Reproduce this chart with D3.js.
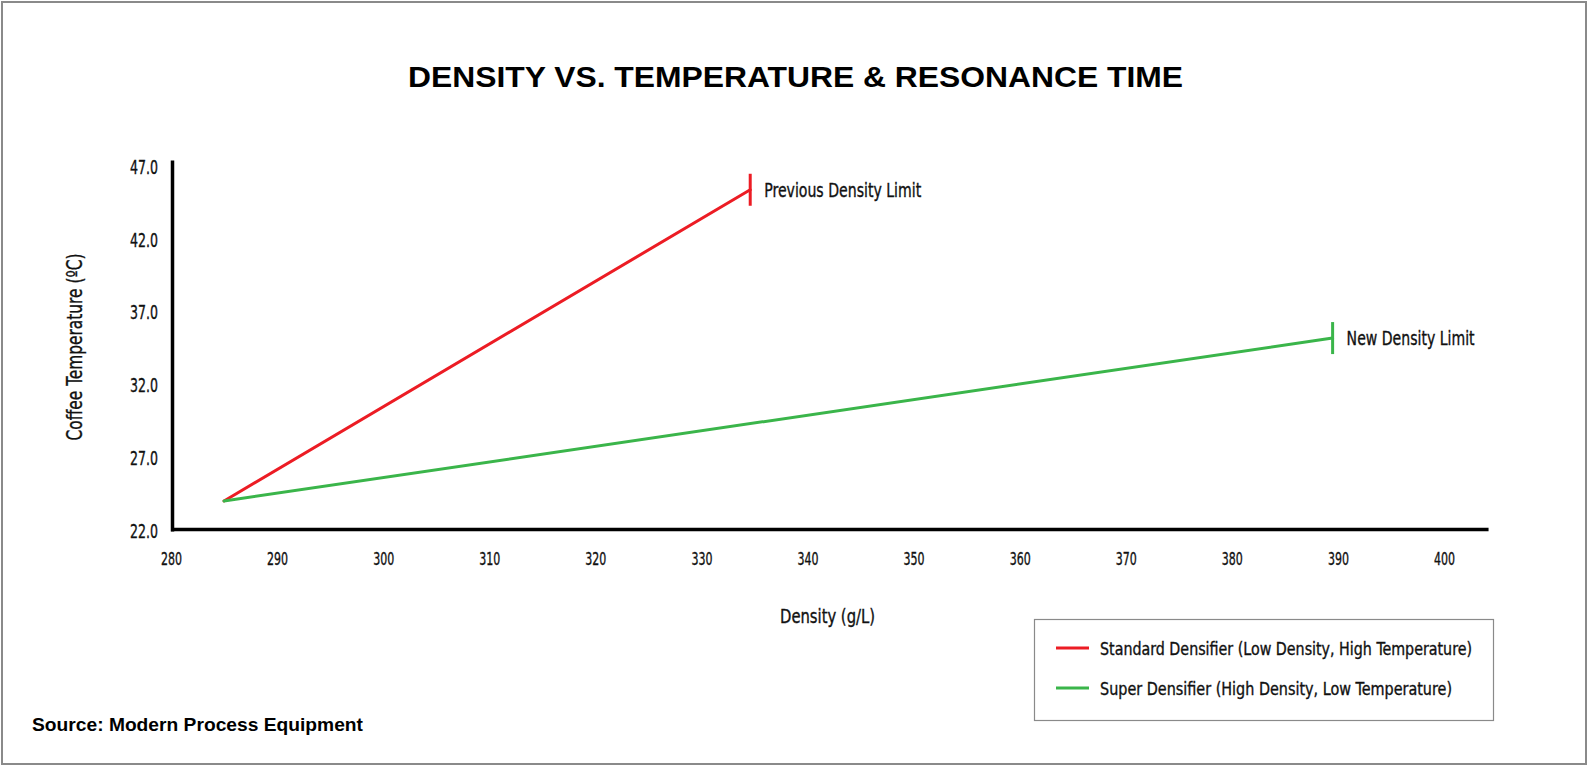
<!DOCTYPE html>
<html>
<head>
<meta charset="utf-8">
<script src="https://cdn.jsdelivr.net/npm/d3@7"></script>
<style>
  html, body { margin: 0; padding: 0; background: #fff; }
  svg { display: block; }
  .narrow { font-family: "Liberation Sans Narrow", "DejaVu Sans Condensed", "Roboto Condensed", sans-serif; font-stretch: condensed; fill: #111; stroke: #111; stroke-width: 0.35px; }
  .bold { font-family: "Liberation Sans", Arial, sans-serif; font-weight: bold; fill: #000; }
</style>
</head>
<body>
<svg id="chart" width="1589" height="766"></svg>
<script>
// ---- data ----
const seriesNames = ["Standard Densifier (Low Density, High Temperature)", "Super Densifier (High Density, Low Temperature)"];
const standardDensity = [285, 334.6];
const standardTemp = [24.0, 45.4];
const superDensity = [285, 389.5];
const superTemp = [24.0, 35.2];
const xTicks = [280, 290, 300, 310, 320, 330, 340, 350, 360, 370, 380, 390, 400];
const yTicks = [22.0, 27.0, 32.0, 37.0, 42.0, 47.0];
const endLabels = ["Previous Density Limit", "New Density Limit"];
const seriesColors = ["#ec1c24", "#3ab54a"];

const svg = d3.select("#chart");
const W = 1589, H = 766;

// outer frame
svg.append("rect").attr("x", 2).attr("y", 2).attr("width", W - 5).attr("height", H - 4)
  .attr("fill", "none").attr("stroke", "#8a8a8a").attr("stroke-width", 2);

const x = d3.scaleLinear().domain([280, 400]).range([171, 1444]);
const y = d3.scaleLinear().domain([22, 47]).range([530, 166.5]);

// fit a text to a target width: shrink the font so the natural width is close, then set textLength
function fit(sel, w, size, allow) {
  allow = allow || 1.1;
  sel.each(function () {
    const t = d3.select(this).attr("font-size", size);
    const nat = this.getComputedTextLength();
    let fs = size;
    if (nat > w * allow) fs = size * (w * allow) / nat;
    t.attr("font-size", fs).attr("textLength", w).attr("lengthAdjust", "spacingAndGlyphs");
  });
  return sel;
}

// title
fit(svg.append("text").attr("class", "bold").attr("x", 408).attr("y", 87)
  .text("DENSITY VS. TEMPERATURE & RESONANCE TIME"), 775, 29);

// axes
const xAxis = d3.axisBottom(x).tickValues(xTicks).tickSize(0).tickPadding(0).tickFormat(d3.format("d"));
const gx = svg.append("g").attr("transform", `translate(0,${y(22)})`).call(xAxis);
gx.select(".domain").remove();
gx.selectAll("text").attr("class", "narrow").attr("dy", 0).attr("y", 35).attr("fill", "#111");
fit(gx.selectAll("text"), 21, 17, 1.4);

const yAxis = d3.axisLeft(y).tickValues(yTicks).tickSize(0).tickPadding(0).tickFormat(d3.format(".1f"));
const gy = svg.append("g").attr("transform", `translate(158,0)`).call(yAxis);
gy.select(".domain").remove();
gy.selectAll("text").attr("class", "narrow").attr("dy", "0.36em").attr("fill", "#111");
fit(gy.selectAll("text"), 28, 20, 1.4);

// axis lines
svg.append("line").attr("x1", 172.5).attr("x2", 172.5).attr("y1", 160.5).attr("y2", y(22) + 1.5)
  .attr("stroke", "#000").attr("stroke-width", 3.5);
svg.append("line").attr("x1", 171).attr("x2", x(404.2)).attr("y1", y(22) - 0.5).attr("y2", y(22) - 0.5)
  .attr("stroke", "#000").attr("stroke-width", 3.5);

// axis titles
fit(svg.append("text").attr("class", "narrow").attr("text-anchor", "middle")
  .attr("transform", `translate(82,347) rotate(-90)`).text("Coffee Temperature (ºC)"), 187, 22, 1.3);
fit(svg.append("text").attr("class", "narrow").attr("text-anchor", "middle")
  .attr("x", 827.5).attr("y", 623).text("Density (g/L)"), 95, 20, 1.3);

// lines
const series = [
  { dens: standardDensity, temp: standardTemp },
  { dens: superDensity, temp: superTemp }
];
const line = d3.line().x(d => x(d[0])).y(d => y(d[1]));
const labelWidths = [157, 128];
series.forEach((s, i) => {
  const pts = s.dens.map((d, j) => [d, s.temp[j]]);
  svg.append("path").attr("d", line(pts)).attr("fill", "none")
    .attr("stroke", seriesColors[i]).attr("stroke-width", 3).attr("stroke-linecap", "round");
  const last = pts[pts.length - 1];
  const ex = x(last[0]), ey = y(last[1]);
  svg.append("line").attr("x1", ex).attr("x2", ex).attr("y1", ey - 16).attr("y2", ey + 16)
    .attr("stroke", seriesColors[i]).attr("stroke-width", 3);
  fit(svg.append("text").attr("class", "narrow")
    .attr("x", ex + 14).attr("y", ey).attr("dy", "0.36em").text(endLabels[i]), labelWidths[i], 22, 1.25);
});

// legend
svg.append("rect").attr("x", 1034.5).attr("y", 619.5).attr("width", 459).attr("height", 101)
  .attr("fill", "#fff").attr("stroke", "#8a8a8a").attr("stroke-width", 1.2);
const legendY = [648, 688];
const legendW = [372, 352];
seriesNames.forEach((n, i) => {
  svg.append("line").attr("x1", 1056).attr("x2", 1089).attr("y1", legendY[i]).attr("y2", legendY[i])
    .attr("stroke", seriesColors[i]).attr("stroke-width", 3);
  fit(svg.append("text").attr("class", "narrow")
    .attr("x", 1100).attr("y", legendY[i]).attr("dy", "0.36em").text(n), legendW[i], 20, 1.15);
});

// source
fit(svg.append("text").attr("class", "bold")
  .attr("x", 32).attr("y", 731).text("Source: Modern Process Equipment"), 331, 17.5);
</script>
</body>
</html>
